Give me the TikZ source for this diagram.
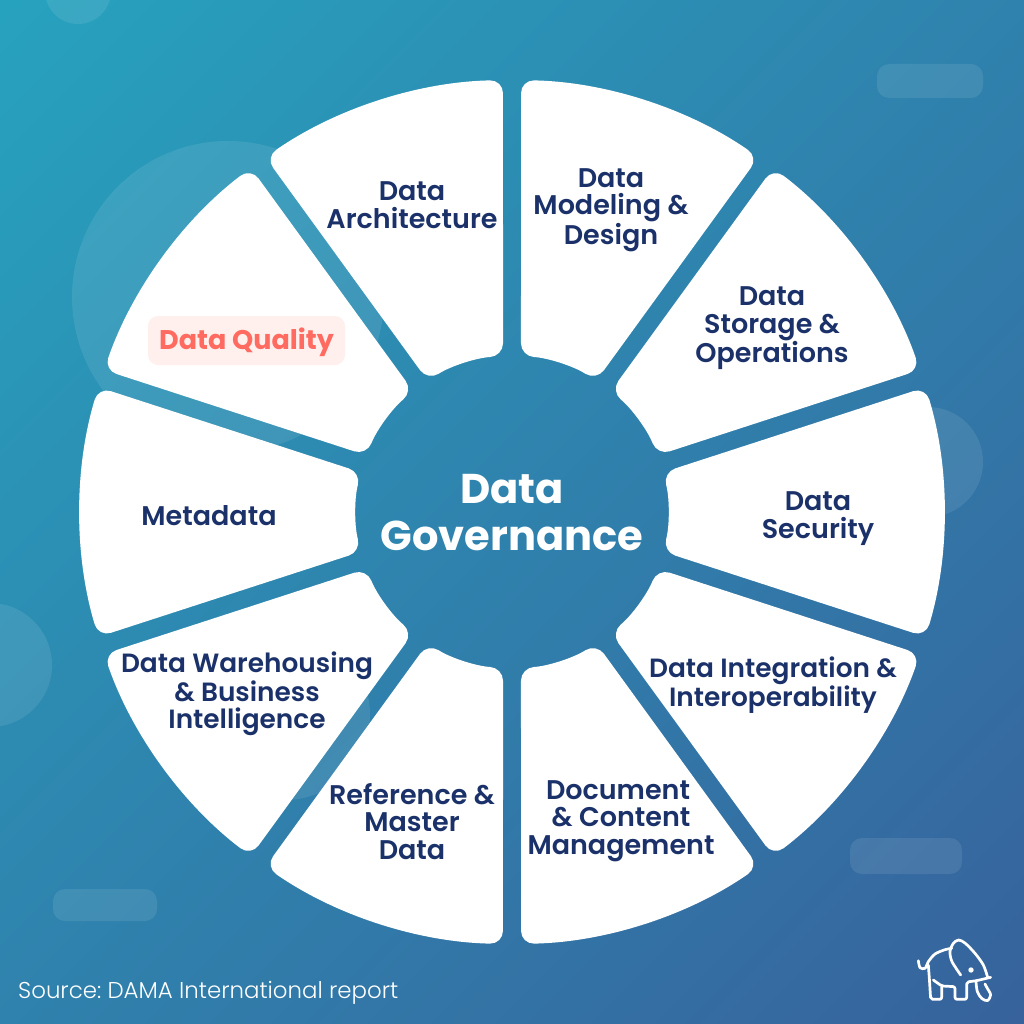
\documentclass[tikz,border=0pt]{standalone}
\usepackage{fontspec}
\setmainfont{Poppins}[UprightFont=* Light]
\newfontfamily\semifont{Poppins}[UprightFont=* SemiBold]
\newfontfamily\boldfont{Poppins}[UprightFont=* Bold]
\usepackage{tikz}
\usetikzlibrary{positioning,shapes}
\definecolor{navy}{HTML}{1B3169}
\definecolor{coral}{HTML}{FF6B60}
\definecolor{blush}{HTML}{FFF0EE}
\definecolor{tealtop}{HTML}{27A2BE}
\definecolor{bluemid}{HTML}{2C83AF}
\definecolor{bluelow}{HTML}{37629C}
\tikzstyle{wedge} = [fill=white, rounded corners=13pt]
\tikzstyle{topic} = [text=navy, align=center, font=\semifont\fontsize{27}{27.4}\selectfont]
\tikzstyle{topicwide} = [topic, font=\semifont\fontsize{26.4}{27.4}\selectfont]
\tikzstyle{bubble} = [fill=white, fill opacity=0.09]
\tikzstyle{tusker} = [draw=white, line width=2.7pt, line cap=round, line join=round]

\begin{document}
\frenchspacing
\begin{tikzpicture}[x=1pt,y=-1pt]
			\useasboundingbox (0,0) rectangle (1024,1024);
			\clip (0,0) rectangle (1024,1024);
			\shade [left color=tealtop, middle color=bluemid, right color=bluelow, shading angle=45] (-212,-212) rectangle (1236,1236);
			%-----------------------------------------------
			\fill [bubble] (228,297) circle (156pt);
			\fill [bubble] (78,-9) circle (33pt);
			\fill [bubble] (928,462) circle (55pt);
			\fill [bubble] (-10,665) circle (62pt);
			\fill [bubble] (285,715) circle (85pt);
			\fill [bubble, rounded corners=12pt] (877,64) rectangle (983,98);
			\fill [bubble, rounded corners=12pt] (850,838) rectangle (962,874);
			\fill [bubble, rounded corners=12pt] (53,889) rectangle (157,921);
			%-----------------------------------------------
			\begin{scope}[shift={(512,512)}]
				\foreach \a in {90,126,...,414}
					\fill [wedge] (\a+1.2:432) arc [start angle=\a+1.2, end angle=\a+34.8, radius=432]
						-- (\a+32.7:156) arc [start angle=\a+32.7, end angle=\a+3.3, radius=156] -- cycle;
			\end{scope}
			%-----------------------------------------------
			\node (quality) [fill=blush, rounded corners=10pt, minimum width=197pt, minimum height=49pt, text=coral, text height=20pt, text depth=2pt, font=\boldfont\fontsize{27}{27.4}\selectfont] at (246.5,340.5) {Data Quality};
			\node (arch) [topic] at (412,205) {Data\\Architecture};
			\node (modeling) [topic] at (611,210) {Data\\Modeling \&\\Design};
			\node (storage) [topic] at (772,328.5) {Data\\Storage \&\\Operations};
			\node (security) [topic] at (818,518.5) {Data\\Security};
			\node (integration) [topicwide] at (773,685) {Data Integration \&\\Interoperability};
			\node (document) [topic] at (621,821) {Document\hspace*{6pt}\\\& Content\\Management};
			\node (reference) [topic] at (412,821.5) {Reference \&\\Master\\Data};
			\node (warehouse) [topicwide] at (247,694) {Data Warehousing\\\& Business\\Intelligence};
			\node (metadata) [topic] at (209,515.5) {Metadata};
			\node (govern) [text=white, align=center, font=\boldfont\fontsize{41.6}{47}\selectfont] at (512,513) {Data\\Governance};
			\node (source) [text=white, anchor=west, inner sep=0pt, font=\fontsize{22.9}{27}\selectfont] at (18,993) {Source: DAMA International report};
			%-----------------------------------------------
			\begin{scope}[shift={(900,920)},x=0.3333pt,y=-0.3333pt]
				\draw [tusker] plot [smooth] coordinates {(55,122) (60,143) (75,145) (85,125) (105,102) (135,89) (155,85)};
				\draw [tusker] plot [smooth] coordinates {(182,165) (156,125) (150,95) (160,70) (176,60) (196,70) (225,100) (250,135) (263,172)};
				\draw [tusker, rounded corners=2pt] (85,135) -- (88,175) -- (92,238) -- (125,238) -- (125,200);
				\draw [tusker, rounded corners=2pt] (100,180) -- (125,198) -- (165,200) -- (165,238) -- (200,238) -- (200,186) -- (230,182) -- (272,172);
				\draw [tusker] plot [smooth] coordinates {(228,185) (232,215) (245,235) (262,242) (272,225) (262,205) (255,192)};
				\fill [white] (213,150) circle (2.7pt);
			\end{scope}
			\end{tikzpicture}
\end{document}
